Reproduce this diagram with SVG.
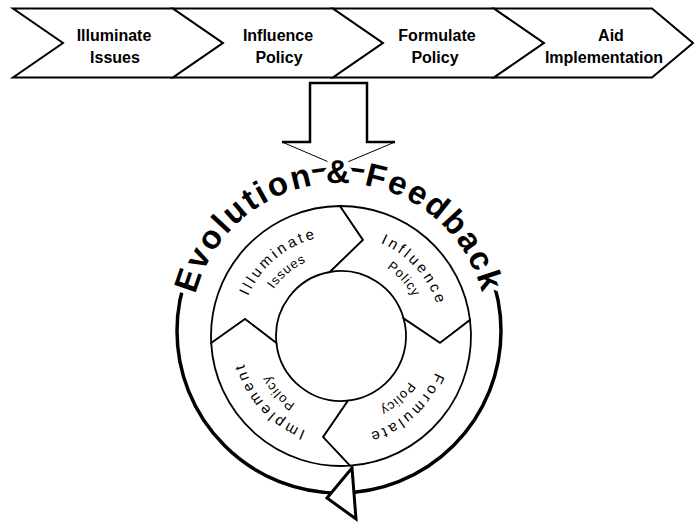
<svg xmlns="http://www.w3.org/2000/svg" width="694" height="524" viewBox="0 0 694 524">
<style>
.chev{fill:#fff;stroke:#000;stroke-width:2;stroke-linejoin:miter}
.ct{font-family:"Liberation Sans",Arial,sans-serif;font-weight:bold;font-size:16px;fill:#000;text-anchor:middle}
.seg{fill:#fff;stroke:#000;stroke-width:1.8;stroke-linejoin:miter}
.rt{font-family:"Liberation Sans",Arial,sans-serif;font-size:15px;fill:#000;letter-spacing:3px;text-anchor:middle}
.rt2{font-family:"Liberation Sans",Arial,sans-serif;font-size:13px;fill:#000;letter-spacing:1px;text-anchor:middle}
.evo{font-family:"Liberation Sans",Arial,sans-serif;font-weight:bold;font-size:33px;fill:#000;letter-spacing:2.3px;text-anchor:middle;stroke:#fff;stroke-width:10px;paint-order:stroke;stroke-linejoin:round}
</style>
<defs>
<path id="evoPath" d="M193.25,356.7 A148,148 0 1 1 484.75,356.7"/>
<path id="pA1" d="M241.5,353.5 A101,101 0 0 1 375.5,241.1"/>
<path id="pA2" d="M260.3,350.2 A82,82 0 0 1 369.0,258.9"/>
<path id="pB1" d="M320.0,237.2 A101,101 0 0 1 437.1,367.2"/>
<path id="pB2" d="M324.0,255.8 A82,82 0 0 1 419.0,361.3"/>
<path id="pC1" d="M439.8,315.0 A101,101 0 0 1 309.8,432.1"/>
<path id="pC2" d="M421.2,319.0 A82,82 0 0 1 315.7,414.0"/>
<path id="pD1" d="M362.0,434.8 A101,101 0 0 1 244.9,304.8"/>
<path id="pD2" d="M358.1,416.2 A82,82 0 0 1 263.0,310.7"/>
</defs>
<rect width="694" height="524" fill="#fff"/>

<g id="step-illuminate">
<polygon class="chev" points="13,8.5 173,8.5 223,43 173,77.5 13,77.5 63,43"/>
<text class="ct" x="114" y="41">Illuminate</text>
<text class="ct" x="115" y="63">Issues</text>
</g>
<g id="step-influence">
<polygon class="chev" points="173,8.5 333,8.5 383,43 333,77.5 173,77.5 223,43"/>
<text class="ct" x="278" y="41">Influence</text>
<text class="ct" x="279" y="63">Policy</text>
</g>
<g id="step-formulate">
<polygon class="chev" points="333,8.5 494,8.5 544,43 494,77.5 333,77.5 383,43"/>
<text class="ct" x="437" y="41">Formulate</text>
<text class="ct" x="435" y="63">Policy</text>
</g>
<g id="step-aid">
<polygon class="chev" points="494,8.5 652,8.5 693,43 652,77.5 494,77.5 544,43"/>
<text class="ct" x="611" y="41">Aid</text>
<text class="ct" x="604" y="63">Implementation</text>
</g>

<g id="connectors">
<circle cx="339" cy="331" r="162" fill="none" stroke="#000" stroke-width="3.5"/>
<path d="M282,142 L310,142 L310,83 L367,83 L367,142 L395,142" fill="none" stroke="#000" stroke-width="2.5"/>
<path d="M282,142 L338,166 L395,142" fill="none" stroke="#000" stroke-width="1"/>
<polygon points="352,468 327,498 356,519" fill="#fff" stroke="#000" stroke-width="3" stroke-linejoin="miter"/>
</g>

<g id="title-arc">
<text class="evo"><textPath href="#evoPath" startOffset="50%">Evolution &amp; Feedback</textPath></text>
</g>

<g id="ring-illuminate">
<path class="seg" d="M211.2,343.1 A130,130 0 0 1 340,206 L363,240 L329.8,272 A65,65 0 0 0 276.4,343.1 L245,319 Z"/>
<text class="rt"><textPath href="#pA1" startOffset="50%">Illuminate</textPath></text>
<text class="rt2"><textPath href="#pA2" startOffset="50%">Issues</textPath></text>
</g>
<g id="ring-influence">
<path class="seg" d="M340,206 A130,130 0 0 1 470,320 L440,343 L403.6,318.4 A65,65 0 0 0 329.8,272 L363,240 Z"/>
<text class="rt"><textPath href="#pB1" startOffset="50%">Influence</textPath></text>
<text class="rt2"><textPath href="#pB2" startOffset="50%">Policy</textPath></text>
</g>
<g id="ring-formulate">
<path class="seg" d="M470,320 A130,130 0 0 1 349.9,465.7 L323,437 L347.8,400.7 A65,65 0 0 0 403.6,318.4 L440,343 Z"/>
<text class="rt"><textPath href="#pC1" startOffset="50%">Formulate</textPath></text>
<text class="rt2"><textPath href="#pC2" startOffset="50%">Policy</textPath></text>
</g>
<g id="ring-implement">
<path class="seg" d="M349.9,465.7 A130,130 0 0 1 211.2,343.1 L245,319 L276.4,343.1 A65,65 0 0 0 347.8,400.7 L323,437 Z"/>
<text class="rt"><textPath href="#pD1" startOffset="50%">Implement</textPath></text>
<text class="rt2"><textPath href="#pD2" startOffset="50%">Policy</textPath></text>
</g>
</svg>
